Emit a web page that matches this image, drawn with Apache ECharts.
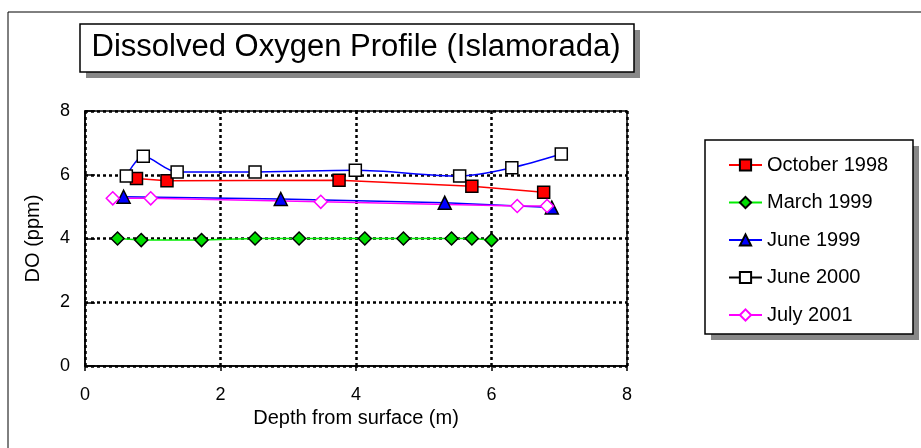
<!DOCTYPE html>
<html lang="en">
<head>
  <meta charset="UTF-8">
  <title>Dissolved Oxygen Profile</title>
  <script src="https://cdn.jsdelivr.net/npm/echarts@6/dist/echarts.min.js"></script>
  <style>
    html, body, #container { width: 100%; height: 100%; margin: 0; padding: 0; overflow: hidden; background: #fff; }
  </style>
</head>
<body>
  <div id="container"></div>
  <script>
    // depth (m) / DO (ppm)
    var oct1998Depth = [0.76, 1.21, 3.75, 5.71, 6.77];
    var oct1998DO    = [5.88, 5.81, 5.83, 5.64, 5.45];
    var mar1999Depth = [0.48, 0.83, 1.72, 2.51, 3.16, 4.13, 4.70, 5.41, 5.71, 6.00];
    var mar1999DO    = [4.0, 3.95, 3.95, 4.0, 4.0, 4.0, 4.0, 4.0, 4.0, 3.95];
    var jun1999Depth = [0.57, 2.89, 5.31, 6.89];
    var jun1999DO    = [5.31, 5.24, 5.12, 4.97];
    var jun2000Depth = [0.61, 0.86, 1.36, 2.51, 3.99, 5.53, 6.30, 7.03];
    var jun2000DO    = [5.96, 6.58, 6.09, 6.09, 6.14, 5.96, 6.22, 6.65];
    var jul2001Depth = [0.41, 0.97, 3.48, 6.38, 6.82];
    var jul2001DO    = [5.26, 5.26, 5.15, 5.02, 5.02];

    var seriesNames = ['October 1998', 'March 1999', 'June 1999', 'June 2000', 'July 2001'];
    var xTicks = [0, 2, 4, 6, 8];

    function pairs(xs, ys) {
      return xs.map(function (x, i) { return [x, ys[i]]; });
    }

    var font = '"Liberation Sans", Arial, sans-serif';
    var chart = echarts.init(document.getElementById('container'), null, { renderer: 'canvas' });

    chart.setOption({
      backgroundColor: '#fff',
      animation: false,
      textStyle: { fontFamily: font, color: '#000' },
      grid: {
        left: 85, right: 294, top: 111, bottom: 82,
        show: true, borderColor: '#000', borderWidth: 1.5, backgroundColor: '#fff'
      },
      xAxis: {
        type: 'value', min: xTicks[0], max: xTicks[xTicks.length - 1], interval: 2,
        name: 'Depth from surface (m)', nameLocation: 'middle', nameGap: 38,
        nameTextStyle: { fontSize: 20, fontFamily: font, color: '#000' },
        axisLine: { lineStyle: { color: '#000', width: 1.5 } },
        axisTick: { show: true, length: 5, lineStyle: { color: '#000', width: 1.5 } },
        axisLabel: { fontSize: 18, color: '#000', margin: 20, fontFamily: font },
        splitLine: { show: true, lineStyle: { color: '#000', width: 2.5, type: [3, 3] } }
      },
      yAxis: {
        type: 'value', min: 0, max: 8, interval: 2,
        name: 'DO (ppm)', nameLocation: 'middle', nameGap: 42, nameRotate: 90,
        nameTextStyle: { fontSize: 20, fontFamily: font, color: '#000' },
        axisLine: { show: true, lineStyle: { color: '#000', width: 1.5 } },
        axisTick: { show: true, inside: true, length: 10, lineStyle: { color: '#000', width: 1.5 } },
        axisLabel: { fontSize: 18, color: '#000', margin: 15, fontFamily: font },
        splitLine: { show: true, lineStyle: { color: '#000', width: 2.5, type: [3, 3] } }
      },
      legend: {
        orient: 'vertical', left: 723, top: 150,
        itemWidth: 33, itemHeight: 14, itemGap: 17.5,
        textStyle: { fontSize: 20, fontFamily: font, color: '#000' },
        data: [
          { name: seriesNames[0] },
          { name: seriesNames[1] },
          { name: seriesNames[2] },
          { name: seriesNames[3], lineStyle: { color: '#000' } },
          { name: seriesNames[4] }
        ]
      },
      graphic: [
        // outer chart frame
        { type: 'rect', shape: { x: 8, y: 12, width: 930, height: 460 }, style: { fill: 'none', stroke: '#000', lineWidth: 1 }, silent: true },
        // title box with shadow
        { type: 'rect', shape: { x: 86, y: 30, width: 554, height: 48 }, style: { fill: '#888' }, silent: true },
        { type: 'rect', shape: { x: 80, y: 24, width: 554, height: 48 }, style: { fill: '#fff', stroke: '#000', lineWidth: 1.5 }, silent: true },
        { type: 'text', style: { x: 356, y: 47, text: 'Dissolved Oxygen Profile (Islamorada)', font: '31px ' + font, fill: '#000', textAlign: 'center', textVerticalAlign: 'middle' }, silent: true },
        // legend box with shadow
        { type: 'rect', z: -1, shape: { x: 711, y: 146, width: 208, height: 194 }, style: { fill: '#888' }, silent: true },
        { type: 'rect', z: -1, shape: { x: 705, y: 140, width: 208, height: 194 }, style: { fill: '#fff', stroke: '#000', lineWidth: 1.5 }, silent: true }
      ],
      series: [
        {
          name: seriesNames[0], type: 'line', data: pairs(oct1998Depth, oct1998DO),
          symbol: 'rect', symbolSize: 12,
          lineStyle: { color: '#ff0000', width: 1.5 },
          itemStyle: { color: '#ff0000', borderColor: '#000', borderWidth: 1.5 }
        },
        {
          name: seriesNames[1], type: 'line', data: pairs(mar1999Depth, mar1999DO),
          symbol: 'diamond', symbolSize: 13,
          lineStyle: { color: '#00ee00', width: 1.5 },
          itemStyle: { color: '#00dd00', borderColor: '#000', borderWidth: 1.5 }
        },
        {
          name: seriesNames[2], type: 'line', data: pairs(jun1999Depth, jun1999DO),
          symbol: 'triangle', symbolSize: 13,
          lineStyle: { color: '#0000ff', width: 1.5 },
          itemStyle: { color: '#0000ff', borderColor: '#000', borderWidth: 1.5 }
        },
        {
          name: seriesNames[3], type: 'line', data: pairs(jun2000Depth, jun2000DO),
          symbol: 'rect', symbolSize: 12, smooth: 0.3,
          lineStyle: { color: '#0000ff', width: 1.5 },
          itemStyle: { color: '#fff', borderColor: '#000', borderWidth: 1.5 }
        },
        {
          name: seriesNames[4], type: 'line', data: pairs(jul2001Depth, jul2001DO),
          symbol: 'diamond', symbolSize: 13,
          lineStyle: { color: '#ff00ff', width: 1.5 },
          itemStyle: { color: '#fff', borderColor: '#ff00ff', borderWidth: 1.5 }
        }
      ]
    });
  </script>
</body>
</html>
